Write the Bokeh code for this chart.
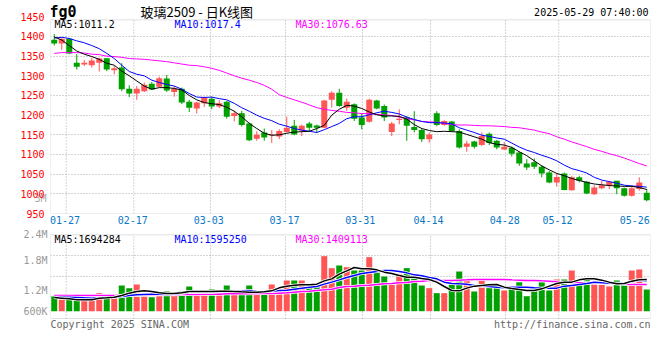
from bokeh.plotting import figure
from bokeh.models import FixedTicker, Label, Range1d, BoxAnnotation, LinearAxis
from bokeh.layouts import column
from bokeh.embed import file_html
from bokeh.resources import INLINE

# ---------------- data ----------------
OPEN = [1392,1382,1394,1333,1329,1327,1333,1345,1314,1321,
        1267,1255,1261,1280,1272,1293,1259,1267,1234,1217,
        1230,1242,1222,1234,1198,1205,1179,1140,1156,1148,
        1146,1157,1173,1161,1179,1174,1168,1239,1257,1219,
        1228,1194,1183,1237,1223,1157,1188,1194,1170,1162,
        1139,1205,1175,1184,1160,1120,1133,1124,1153,1135,
        1113,1117,1105,1077,1080,1069,1054,1029,1052,1009,
        1042,1031,999,1014,1022,1033,1014,995,1012,1003]
HIGH = [1406,1396,1396,1355,1340,1346,1346,1345,1325,1332,
        1276,1274,1283,1284,1298,1302,1274,1270,1239,1234,
        1247,1247,1238,1236,1211,1211,1181,1159,1166,1162,
        1164,1196,1188,1176,1183,1176,1239,1261,1267,1242,
        1230,1205,1242,1239,1227,1183,1215,1198,1210,1166,
        1156,1210,1187,1185,1164,1135,1135,1156,1156,1137,
        1132,1120,1108,1088,1090,1073,1058,1052,1054,1046,
        1046,1033,1022,1033,1033,1033,1016,1022,1042,1012]
LOW = [1377,1366,1355,1316,1325,1321,1311,1312,1304,1261,
       1246,1239,1259,1264,1270,1259,1247,1228,1208,1204,
       1221,1215,1218,1191,1184,1171,1134,1135,1135,1129,
       1139,1156,1149,1147,1160,1154,1167,1219,1221,1211,
       1185,1164,1181,1215,1185,1147,1177,1135,1156,1132,
       1130,1172,1173,1157,1115,1107,1115,1122,1124,1113,
       1112,1095,1071,1061,1063,1042,1027,1018,1009,1008,
       1029,999,997,1012,1012,999,993,993,1008,981]
CLOSE = [1382,1394,1357,1323,1333,1339,1344,1316,1319,1266,
         1255,1267,1277,1265,1294,1263,1267,1232,1219,1232,
         1245,1222,1230,1196,1205,1175,1136,1150,1143,1150,
         1160,1168,1151,1173,1168,1168,1237,1257,1223,1234,
         1191,1175,1239,1217,1194,1179,1191,1173,1162,1139,
         1151,1175,1185,1160,1118,1128,1120,1147,1129,1118,
         1120,1102,1077,1067,1069,1052,1029,1043,1010,1042,
         1033,1001,1016,1022,1031,1014,995,1014,1029,984]
MA5 = [1399,1391,1377,1363,1355,1349,1342,1332,1327,1312,
       1300,1287,1274,1266,1270,1270,1268,1264,1250,1239,
       1232,1229,1227,1220,1210,1196,1179,1166,1154,1149,
       1150,1154,1157,1158,1159,1166,1174,1200,1215,1225,
       1223,1217,1208,1201,1198,1198,1197,1190,1176,1166,
       1161,1158,1159,1158,1157,1151,1145,1139,1130,1126,
       1124,1118,1107,1097,1084,1071,1061,1052,1046,1039,
       1034,1029,1025,1023,1021,1020,1019,1019,1016,1011]
MA10 = [1396,1398,1395,1389,1384,1377,1369,1357,1344,1327,
        1311,1304,1300,1289,1283,1278,1274,1266,1255,1246,
        1245,1246,1242,1239,1230,1219,1210,1200,1192,1186,
        1177,1172,1166,1162,1159,1156,1163,1171,1179,1191,
        1196,1196,1201,1206,1210,1207,1203,1195,1189,1184,
        1181,1181,1180,1178,1168,1162,1156,1149,1146,1142,
        1139,1129,1119,1111,1105,1098,1092,1084,1073,1064,
        1059,1053,1042,1035,1031,1027,1022,1020,1019,1017]
MA30 = [1357,1359,1359,1359,1358,1355,1354,1350,1349,1347,
        1344,1343,1342,1340,1338,1336,1333,1330,1327,1326,
        1323,1319,1314,1307,1300,1294,1289,1283,1276,1266,
        1252,1245,1239,1233,1226,1219,1215,1212,1210,1207,
        1206,1204,1204,1202,1201,1199,1195,1191,1188,1184,
        1183,1182,1179,1176,1175,1175,1174,1173,1173,1172,
        1171,1169,1168,1165,1162,1157,1153,1145,1139,1132,
        1126,1120,1113,1108,1102,1097,1091,1084,1077,1071]
VOLUME_K = [1080,1020,1080,1020,1020,1100,1146,1100,1080,1300,
            1246,1320,1146,1066,1153,1180,1100,1180,1280,1200,
            1200,1220,1180,1300,1167,1167,1300,1113,1167,1320,
            1200,1400,1400,1400,1267,1267,1887,1647,1700,1667,
            1600,1600,1867,1567,1480,1320,1533,1647,1520,1300,
            1247,1147,1147,1320,1580,1400,1180,1400,1247,1320,
            1200,1247,1367,1087,1267,1367,1200,1420,1420,1600,
            1367,1420,1367,1313,1280,1400,1367,1600,1620,1220]
VMA5_K = [1060,1047,1033,1013,1013,1013,1047,1053,1067,1100,
          1147,1180,1193,1180,1153,1140,1140,1153,1180,1180,
          1180,1180,1187,1187,1180,1173,1167,1167,1173,1193,
          1253,1287,1307,1313,1313,1327,1393,1433,1527,1593,
          1660,1633,1633,1613,1567,1540,1500,1467,1467,1440,
          1420,1367,1280,1200,1193,1247,1287,1300,1313,1320,
          1267,1240,1220,1200,1200,1233,1287,1340,1367,1367,
          1413,1433,1433,1407,1367,1333,1340,1387,1413,1420]
VMA10_K = [1067,1067,1067,1060,1053,1047,1053,1060,1067,1080,
           1100,1113,1120,1127,1127,1120,1127,1147,1167,1167,
           1167,1167,1180,1180,1187,1193,1200,1180,1173,1187,
           1200,1207,1227,1247,1267,1280,1327,1367,1413,1460,
           1500,1540,1560,1580,1600,1600,1580,1553,1513,1493,
           1460,1433,1367,1340,1333,1327,1300,1287,1280,1267,
           1253,1267,1267,1267,1253,1247,1247,1247,1287,1300,
           1320,1340,1367,1353,1347,1347,1347,1373,1407,1393]
VMA30_K = [1100,1100,1100,1100,1100,1100,1100,1100,1100,1100,
           1100,1107,1107,1107,1113,1113,1113,1120,1120,1120,
           1127,1127,1127,1133,1133,1133,1133,1140,1140,1140,
           1147,1153,1167,1180,1187,1200,1213,1227,1260,1280,
           1287,1300,1307,1320,1333,1340,1353,1360,1380,1387,
           1400,1400,1400,1400,1407,1413,1420,1420,1420,1420,
           1420,1413,1407,1400,1400,1393,1387,1373,1367,1360,
           1353,1353,1347,1347,1340,1333,1327,1320,1320,1320]

DATE_LABELS = ["01-27", "02-17", "03-03", "03-17", "03-31", "04-14", "04-28", "05-12", "05-26"]
PRICE_TICKS = [950, 1000, 1050, 1100, 1150, 1200, 1250, 1300, 1350, 1400, 1450]
VOL_BASE = 786000          # bottom of the volume bars (labelled 600K)
VOL_TICKS = {2400000: "2.4M", 1800000: "1.8M", 1200000: "1.2M", VOL_BASE: "600K"}
EXTRA_TICK = {987: "3M"}

TITLE_CODE = "fg0"
TITLE_NAME = "玻璃2509 - 日K线图"
TIMESTAMP = "2025-05-29 07:40:00"
PRICE_MA_TEXT = ["MA5:1011.2", "MA10:1017.4", "MA30:1076.63"]
VOL_MA_TEXT = ["MA5:1694284", "MA10:1595250", "MA30:1409113"]
COPYRIGHT = "Copyright 2025 SINA.COM"
URL = "http://finance.sina.com.cn"

# ---------------- layout constants ----------------
LABEL_POS = [1.43, 10.46, 20.6, 30.7, 40.8, 49.9, 60.07, 67.1, 77.4]
GRID_POS = [1.59, 10.61, 20.83, 30.83, 41.1, 50.17, 60.17, 67.27]
MONO = "DejaVu Sans Mono"
RED = "#ff5555"
GREEN = "#00a000"
GRID = "#aaaaaa"
FRAME = "#999999"
MA_COLORS = ["#000000", "#0000ff", "#ff00ff"]
MA_TEXT_X = [0.03, 16.03, 32.17]

N = len(CLOSE)
xs = list(range(N))
colors = [RED if c > o else GREEN for o, c in zip(OPEN, CLOSE)]
btop = [max(o, c) for o, c in zip(OPEN, CLOSE)]
bbot = [min(o, c) for o, c in zip(OPEN, CLOSE)]
btop = [t if t - b >= 2.5 else b + 2.5 for t, b in zip(btop, bbot)]

xr = Range1d(-0.5, N - 0.5)


def style_axis(ax, color):
    ax.axis_line_color = None
    ax.major_tick_line_color = None
    ax.minor_tick_line_color = None
    ax.major_tick_out = 0
    ax.major_tick_in = 0
    ax.major_label_text_color = color
    ax.major_label_text_font = MONO
    ax.major_label_text_font_size = "10px"


# ---------------- price panel ----------------
Y0, Y1, YTOP = 950, 1442.4, 1491.5        # box bottom, box top, canvas top
p = figure(frame_width=600, frame_height=213, x_range=xr, y_range=Range1d(Y0, YTOP),
           output_backend="svg", toolbar_location=None, y_axis_location=None,
           min_border_left=50, min_border_right=10, min_border_top=0, min_border_bottom=15,
           background_fill_color="white", border_fill_color="white", outline_line_color=None)

# inner (grey) axis carrying the small "3M" mark, outer (red) price axis
ax3 = LinearAxis(ticker=FixedTicker(ticks=list(EXTRA_TICK.keys())), major_label_overrides=EXTRA_TICK)
style_axis(ax3, "#aaaaaa")
ax3.major_label_standoff = 4
p.add_layout(ax3, "left")

pax = LinearAxis(ticker=FixedTicker(ticks=PRICE_TICKS))
style_axis(pax, "#ff0000")
pax.major_label_standoff = -13
p.add_layout(pax, "left")

p.xaxis.ticker = FixedTicker(ticks=LABEL_POS)
p.xaxis.major_label_overrides = {pos: lab for pos, lab in zip(LABEL_POS, DATE_LABELS)}
style_axis(p.xaxis[0], "#0a78c8")
p.xaxis.major_label_standoff = 2

p.ygrid.ticker = FixedTicker(ticks=PRICE_TICKS[1:-1])
p.ygrid.grid_line_color = GRID
p.ygrid.grid_line_dash = "1 2"
p.xgrid.grid_line_color = None
p.segment(x0=GRID_POS, x1=GRID_POS, y0=Y0, y1=Y1, line_color=GRID, line_dash="1 2",
          line_width=1, level="underlay")

p.segment(x0=xs, y0=LOW, x1=xs, y1=HIGH, line_color=colors, line_width=1)
p.vbar(x=xs, width=0.8, top=btop, bottom=bbot, fill_color=colors, line_color=None)
p.line(xs, MA30, line_color=MA_COLORS[2], line_width=1)
p.line(xs, MA10, line_color=MA_COLORS[1], line_width=1)
p.line(xs, MA5, line_color=MA_COLORS[0], line_width=1)

p.add_layout(BoxAnnotation(left=-0.5, right=N - 0.5, bottom=Y0, top=Y1, fill_alpha=0,
                           line_color=FRAME, line_width=1))

for txt, xpos, col in zip(PRICE_MA_TEXT, MA_TEXT_X, MA_COLORS):
    p.add_layout(Label(x=xpos, y=Y1, y_offset=-4.5, text=txt, text_color=col,
                       text_font=MONO, text_font_size="10px", text_baseline="middle"))

p.add_layout(Label(x=-0.5, y=Y1, x_offset=-1, y_offset=8, text=TITLE_CODE, text_color="#000000",
                   text_font=MONO, text_font_size="15px", text_font_style="bold", text_baseline="middle"))
p.add_layout(Label(x=11.5, y=Y1, y_offset=8, text=TITLE_NAME, text_color="#000000",
                   text_font="Noto Sans CJK SC", text_font_size="13px", text_baseline="middle"))
p.add_layout(Label(x=N - 0.5, y=Y1, x_offset=-2, y_offset=7, text=TIMESTAMP, text_color="#000000",
                   text_font=MONO, text_font_size="10px", text_align="right", text_baseline="middle"))

# ---------------- volume panel ----------------
V0, V1 = 640000, 2314000              # box bottom, box top
VBOT, VTOP = 280000, 2440000          # canvas range
vol = [k * 1000 for k in VOLUME_K]
v = figure(frame_width=600, frame_height=108, x_range=xr, y_range=Range1d(VBOT, VTOP),
           output_backend="svg", toolbar_location=None, x_axis_location=None,
           min_border_left=50, min_border_right=10, min_border_top=0, min_border_bottom=0,
           background_fill_color="white", border_fill_color="white", outline_line_color=None)

v.yaxis.ticker = FixedTicker(ticks=list(VOL_TICKS.keys()))
v.yaxis.major_label_overrides = VOL_TICKS
style_axis(v.yaxis[0], "#999999")
v.yaxis.major_label_standoff = 3

v.ygrid.ticker = FixedTicker(ticks=[1090000, 1490000, 1894000])
v.ygrid.grid_line_color = GRID
v.ygrid.grid_line_dash = "1 2"
v.xgrid.grid_line_color = None
v.segment(x0=GRID_POS, x1=GRID_POS, y0=V0, y1=V1, line_color=GRID, line_dash="1 2",
          line_width=1, level="underlay")

v.vbar(x=xs, width=0.8, top=vol, bottom=VOL_BASE, fill_color=colors, line_color=None)
for series, col in zip([VMA30_K, VMA10_K, VMA5_K], MA_COLORS[::-1]):
    ys = [k * 1000 for k in series]
    v.line(xs, ys, line_color="white", line_width=3)
    v.line(xs, ys, line_color=col, line_width=1.5)

v.add_layout(BoxAnnotation(left=-0.5, right=N - 0.5, bottom=V0, top=V1, fill_alpha=0,
                           line_color=FRAME, line_width=1))

for txt, xpos, col in zip(VOL_MA_TEXT, MA_TEXT_X, MA_COLORS):
    v.add_layout(Label(x=xpos, y=V1, y_offset=-4.7, text=txt, text_color=col,
                       text_font=MONO, text_font_size="10px", text_baseline="middle"))

v.add_layout(Label(x=-0.5, y=V0, y_offset=-6, text=COPYRIGHT, text_color="#666666",
                   text_font=MONO, text_font_size="10px", text_baseline="middle"))
v.add_layout(Label(x=N - 0.5, y=V0, y_offset=-6, text=URL, text_color="#666666",
                   text_font=MONO, text_font_size="10px", text_align="right", text_baseline="middle"))

layout = column(p, v, spacing=0)
open("out.html", "w").write(file_html(layout, INLINE))
